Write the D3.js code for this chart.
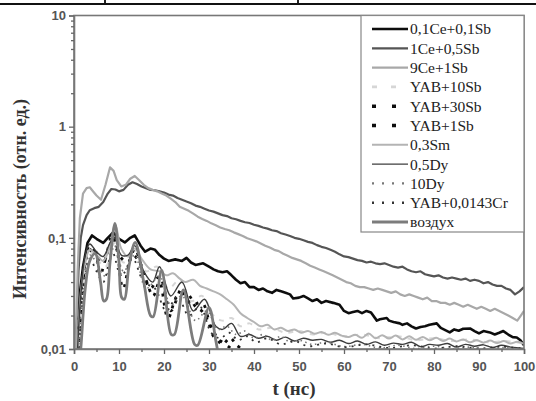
<!DOCTYPE html>
<html><head><meta charset="utf-8">
<script src="https://cdn.jsdelivr.net/npm/d3@7"></script>
<style>body{margin:0;background:#fff}svg{display:block}</style>
</head><body><svg id="c" width="536" height="401"></svg>
<script>
// ---- data (t in ns, intensity in rel. units) ----
const xTicks = [0,10,20,30,40,50,60,70,80,90,100];
const yTicks = [0.01,0.1,1,10];
const yTickLabels = ["0,01","0,1","1","10"];
const seriesNames = ["0,1Ce+0,1Sb","1Ce+0,5Sb","9Ce+1Sb","YAB+10Sb","YAB+30Sb","YAB+1Sb","0,3Sm","0,5Dy","10Dy","YAB+0,0143Cr","воздух"];

const ce01 = [[0.3,0.01],[1,0.025],[2,0.055],[3,0.09],[4,0.105],[5,0.098],[6.5,0.09],[7.5,0.1],[8.7,0.112],[10,0.098],[11.3,0.091],[12.5,0.1],[13.5,0.105],[14.8,0.085],[15.8,0.075],[17,0.08],[18,0.078],[19,0.07],[20,0.065],[21,0.062],[22.5,0.064],[24,0.062],[25,0.066],[26,0.06],[27,0.057],[28.7,0.059],[30,0.055],[31,0.052],[32,0.05],[33,0.049],[34,0.05],[35,0.046],[36,0.042],[37,0.039],[38,0.04],[39,0.036],[40,0.036],[41,0.034],[42,0.035],[43,0.033],[44,0.032],[45,0.034],[46,0.033],[47,0.032],[48,0.031],[48.7,0.0285],[50,0.029],[51,0.03],[52,0.0285],[53,0.027],[54,0.028],[55,0.026],[56,0.027],[57.6,0.026],[59,0.025],[60,0.022],[61,0.021],[62,0.0215],[63,0.022],[64,0.021],[65,0.022],[66,0.0213],[67.3,0.018],[68,0.0185],[69.5,0.019],[70,0.018],[71,0.0175],[72.4,0.017],[73,0.0165],[74,0.017],[75,0.016],[76,0.0153],[77,0.0158],[78,0.016],[79,0.0165],[80.6,0.017],[81.5,0.0155],[82.5,0.0148],[83.5,0.0141],[84.5,0.015],[85.5,0.0146],[86.5,0.0152],[88,0.0153],[89,0.0145],[90,0.0138],[91,0.0145],[92.4,0.0141],[93.5,0.0135],[94.5,0.014],[95.4,0.0145],[96.5,0.0135],[97.5,0.0128],[98.4,0.0127],[99.2,0.012],[100,0.0108]];

const ce1 = [[0.4,0.01],[1,0.05],[1.5,0.1],[2,0.13],[2.8,0.16],[3.5,0.177],[4.5,0.185],[5.5,0.19],[6.5,0.21],[7.5,0.25],[8.3,0.275],[9.2,0.272],[10,0.262],[11,0.27],[12,0.3],[13,0.316],[14,0.305],[15,0.29],[16,0.28],[17,0.27],[18,0.268],[19,0.262],[20,0.256],[21,0.245],[22,0.24],[23,0.228],[24,0.22],[25,0.212],[26,0.205],[27,0.195],[28,0.19],[29,0.183],[30,0.176],[31,0.172],[32,0.166],[33,0.16],[34,0.157],[35,0.15],[36,0.147],[37,0.142],[38,0.138],[39,0.136],[40,0.131],[41,0.128],[42,0.124],[43,0.121],[44,0.117],[45,0.115],[46,0.11],[47,0.107],[48,0.104],[49,0.1],[50,0.098],[51,0.095],[52,0.092],[53,0.09],[54,0.086],[55,0.083],[56,0.081],[57,0.078],[58,0.075],[59,0.071],[60,0.068],[61,0.067],[62,0.065],[63,0.063],[64,0.062],[65,0.06],[66,0.061],[67,0.059],[68,0.058],[69,0.059],[70,0.057],[71,0.055],[72,0.054],[73,0.055],[74,0.052],[75,0.05],[76,0.049],[77,0.05],[78,0.047],[79,0.046],[80,0.045],[81,0.046],[82,0.044],[83,0.043],[84,0.044],[85,0.043],[86,0.042],[87,0.043],[88,0.041],[89,0.042],[90,0.041],[91,0.039],[92,0.04],[93,0.038],[94,0.037],[95,0.037],[96,0.035],[97,0.034],[98,0.031],[99,0.033],[100,0.036]];

const ce9 = [[0.4,0.01],[0.8,0.05],[1.3,0.15],[2,0.25],[2.8,0.28],[3.5,0.285],[4.3,0.26],[5,0.24],[6,0.22],[7,0.3],[8,0.43],[8.8,0.4],[9.5,0.33],[10.5,0.29],[11.5,0.3],[12.5,0.34],[13.5,0.36],[14.5,0.33],[15.5,0.3],[16.5,0.28],[17.5,0.27],[18.5,0.262],[19.5,0.25],[20.5,0.24],[21.5,0.225],[22.5,0.21],[23.5,0.19],[24.5,0.183],[25.5,0.175],[26.5,0.165],[27.5,0.155],[28.5,0.148],[29.5,0.142],[30.5,0.135],[31.5,0.13],[32.5,0.124],[33.5,0.12],[34.5,0.117],[35.5,0.112],[36.5,0.108],[37.5,0.104],[38.5,0.099],[39.5,0.096],[40.5,0.093],[41.5,0.089],[42.5,0.085],[43.5,0.082],[44.5,0.078],[45.5,0.076],[46.5,0.072],[47.5,0.069],[48.5,0.066],[49.5,0.064],[50.5,0.062],[51.5,0.059],[52.5,0.056],[53.5,0.054],[54.5,0.052],[55.5,0.05],[56.5,0.048],[57.5,0.046],[58.5,0.044],[59.5,0.042],[60.5,0.04],[61.5,0.039],[62.5,0.037],[63.5,0.036],[64.5,0.036],[65.5,0.035],[66.5,0.034],[67.5,0.035],[68.5,0.034],[69.5,0.033],[70.5,0.032],[71.5,0.033],[72.5,0.031],[73.5,0.03],[74.5,0.031],[75.5,0.03],[76.5,0.029],[77.5,0.028],[78.5,0.029],[79.5,0.027],[80.5,0.027],[81.5,0.026],[82.5,0.026],[83.5,0.025],[84.5,0.026],[85.5,0.025],[86.5,0.024],[87.5,0.025],[88.5,0.024],[89.5,0.023],[90.5,0.024],[91.5,0.023],[92.5,0.022],[93.5,0.023],[94.5,0.022],[95.5,0.021],[96.5,0.02],[97.5,0.019],[98.5,0.018],[99.3,0.02],[100,0.022]];

const yab10 = [[1,0.01],[2,0.04],[3.5,0.075],[5,0.065],[7,0.055],[9,0.09],[11,0.06],[13.5,0.078],[16,0.05],[18.5,0.055],[21,0.035],[23.5,0.042],[26,0.027],[28.5,0.03],[31,0.02],[33,0.018],[35,0.019],[37,0.016],[39,0.017],[41,0.015],[44,0.0155],[47,0.014],[50,0.0145],[53,0.0135],[56,0.014],[60,0.013],[64,0.0135],[68,0.0125],[72,0.013],[76,0.012],[80,0.0125],[84,0.0118],[88,0.0122],[92,0.0115],[96,0.0118],[100,0.0112]];

const yab30 = [[1,0.01],[2,0.04],[3,0.072],[4.5,0.08],[5.8,0.047],[7.5,0.075],[9,0.1],[10.9,0.035],[13,0.07],[14.7,0.059],[16,0.042],[17.6,0.03],[19,0.04],[20.9,0.019],[23,0.03],[25.3,0.031],[27,0.024],[28.4,0.022],[30.7,0.0153],[32.9,0.011],[34.7,0.0126],[36,0.011],[38,0.0095]];

const yab1 = [[1,0.015],[2,0.045],[3.5,0.085],[5,0.07],[6.5,0.06],[8.5,0.105],[10,0.07],[12,0.06],[13.5,0.08],[15,0.055],[17,0.035],[19,0.045],[21.5,0.022],[24,0.035],[26,0.025],[28.5,0.026],[31,0.013],[33,0.0115],[35,0.01],[36,0.009]];

const sm03 = [[0.8,0.01],[1.6,0.035],[2.5,0.06],[3.5,0.078],[5,0.07],[6.5,0.062],[8,0.085],[9.2,0.13],[10.5,0.08],[12,0.068],[13.5,0.08],[15,0.065],[17,0.052],[19,0.05],[20.5,0.046],[22,0.048],[23.5,0.043],[24.7,0.04],[26.5,0.042],[28,0.037],[29.5,0.035],[31,0.033],[32.5,0.031],[34,0.028],[35.5,0.025],[37,0.021],[38.5,0.019],[40,0.0175],[41.5,0.016],[43,0.0165],[44.5,0.015],[46,0.0155],[47.5,0.0145],[49,0.015],[50.5,0.014],[52,0.0145],[53.5,0.0137],[55,0.0142],[56.5,0.0134],[58,0.014],[59.5,0.0132],[61,0.0128],[62.5,0.0134],[64,0.0126],[65.5,0.0138],[67,0.0125],[68.5,0.0133],[70,0.0124],[71.5,0.0132],[73,0.0122],[74.5,0.013],[76,0.0121],[77.5,0.0128],[79,0.012],[80.5,0.0126],[82,0.0118],[83.5,0.0124],[85,0.0117],[86.5,0.0122],[88,0.0115],[89.5,0.012],[91,0.0114],[92.5,0.0119],[94,0.0113],[95.5,0.0118],[97,0.0112],[98.5,0.0116],[100,0.0111]];

const dy05 = [[0.8,0.01],[1.5,0.03],[2.5,0.07],[3.5,0.088],[5,0.075],[6.5,0.068],[8,0.09],[9,0.1],[10.5,0.07],[12,0.07],[13.5,0.085],[15.5,0.05],[17.5,0.04],[19,0.055],[21.5,0.03],[24,0.04],[26.5,0.022],[29,0.028],[31.5,0.016],[33,0.015],[35,0.017],[37,0.013],[39,0.0135],[41,0.0125],[43,0.013],[45,0.012],[47,0.0128],[49,0.0118],[51,0.0125],[53,0.012],[55,0.0122],[57,0.0115],[59,0.012],[61,0.0112],[63,0.0118],[65,0.011],[67,0.0116],[69,0.0108],[71,0.0113],[73,0.011],[75,0.0115],[77,0.0105],[79,0.011],[81,0.0108],[83,0.0112],[85,0.0104],[87,0.011],[89,0.0106],[91,0.0109],[93,0.0103],[95,0.0108],[97,0.0104],[99,0.0102],[100,0.0101]];

const dy10 = [[1,0.01],[2,0.03],[3.5,0.07],[5,0.06],[7,0.045],[9,0.085],[11,0.05],[13.5,0.07],[16,0.035],[19,0.045],[21.5,0.025],[24,0.03],[27,0.018],[29.5,0.022],[32,0.015],[34,0.016],[36,0.0135],[38,0.0145],[40,0.0125],[42,0.0135],[44,0.012],[46,0.013],[48,0.0115],[50,0.012],[53,0.011],[56,0.0115],[60,0.0105],[64,0.011],[68,0.0102],[72,0.0108],[76,0.0101],[80,0.0106],[84,0.01],[88,0.0104],[92,0.0099],[96,0.0103],[100,0.0099]];

const yabCr = [[1.2,0.01],[2.2,0.035],[3.5,0.065],[5,0.05],[6.5,0.04],[8.5,0.075],[10.5,0.045],[13,0.065],[15.5,0.04],[18,0.035],[20.5,0.022],[23,0.03],[25.5,0.02],[28,0.024],[30.5,0.014],[32.5,0.0125],[34.5,0.014],[36.5,0.012],[38.5,0.013],[40.5,0.0115],[43,0.0125],[46,0.011],[49,0.0118],[52,0.0106],[56,0.0112],[60,0.0104],[65,0.011],[70,0.0102],[75,0.0108],[80,0.0101],[85,0.0106],[90,0.0101],[95,0.0105],[100,0.01]];

const air = [[0.5,0.004],[1.5,0.01],[2.5,0.035],[3.5,0.062],[4.7,0.072],[5.9,0.04],[6.6,0.027],[7.2,0.028],[8,0.06],[9.1,0.135],[10,0.06],[10.6,0.029],[11.2,0.028],[12.2,0.055],[13.6,0.091],[15.5,0.04],[17,0.02],[17.6,0.0195],[19.5,0.051],[21.6,0.0135],[22.3,0.0135],[24.3,0.034],[26.8,0.011],[27.5,0.0108],[30,0.0236],[31.5,0.012],[32.5,0.007]];

const seriesData = [ce01,ce1,ce9,yab10,yab30,yab1,sm03,dy05,dy10,yabCr,air];
const styles = [
  {c:"#111",w:2.6,d:null,ld:null,curve:"lin"},
  {c:"#555",w:2.2,d:null,ld:null,curve:"lin"},
  {c:"#a8a8a8",w:2.2,d:null,ld:null,curve:"lin"},
  {c:"#d6d6d6",w:2,d:"5,6",ld:"5,14",curve:"cr"},
  {c:"#111",w:2.8,d:"3,6",ld:"4,16",curve:"cr"},
  {c:"#111",w:2.8,d:"3,7",ld:"4,16",curve:"cr"},
  {c:"#b4b4b4",w:2,d:null,ld:null,curve:"cr"},
  {c:"#3c3c3c",w:1.4,d:null,ld:null,curve:"cr"},
  {c:"#777",w:1.6,d:"1.5,3.5",ld:"2,8",curve:"cr"},
  {c:"#333",w:1.8,d:"2,5",ld:"2,8",curve:"cr"},
  {c:"#7c7c7c",w:2.8,d:null,ld:null,curve:"cr"}
];

const svg = d3.select("#c");
svg.append("rect").attr("width",536).attr("height",401).attr("fill","#fff");

// page crop remnants at top
svg.append("rect").attr("x",0).attr("y",3).attr("width",536).attr("height",2).attr("fill","#111");
svg.append("rect").attr("x",104).attr("y",0).attr("width",2).attr("height",3).attr("fill","#222");
svg.append("rect").attr("x",297).attr("y",0).attr("width",2).attr("height",3).attr("fill","#222");

const x = d3.scaleLinear().domain([0,100]).range([74,524]);
const y = d3.scaleLog().domain([0.01,10]).range([349,15.5]);

const defs = svg.append("defs");
defs.append("clipPath").attr("id","clip").append("rect")
  .attr("x",74).attr("y",15.5).attr("width",450).attr("height",333.5);
const f = defs.append("filter").attr("id","soft").attr("filterUnits","userSpaceOnUse")
  .attr("x",0).attr("y",0).attr("width",536).attr("height",401);
f.append("feGaussianBlur").attr("stdDeviation",0.55);

// series
const gLines = svg.append("g").attr("clip-path","url(#clip)").attr("filter","url(#soft)");
seriesData.forEach((d,i)=>{
  const s = styles[i];
  const line = d3.line().x(p=>x(p[0])).y(p=>y(Math.max(p[1],0.003)))
    .curve(s.curve==="cr" ? d3.curveCatmullRom.alpha(0.5) : d3.curveLinear);
  gLines.append("path").datum(d).attr("d",line).attr("fill","none")
    .attr("stroke",s.c).attr("stroke-width",s.w)
    .attr("stroke-dasharray",s.d).attr("stroke-linejoin","round");
});

// frame
svg.append("rect").attr("x",74).attr("y",15.5).attr("width",450).attr("height",333.5)
  .attr("fill","none").attr("stroke","#777").attr("stroke-width",1.6);

// axes
const tickFont = "'Liberation Sans', Arial, sans-serif";
const yAxis = d3.axisLeft(y).tickValues(yTicks).tickSize(5).tickPadding(3)
  .tickFormat((d,i)=>yTickLabels[i]);
svg.append("g").attr("transform","translate(74,0)").call(yAxis);
const minorY = [];
[0.01,0.1,1].forEach(b=>{for(let k=2;k<=9;k++) minorY.push(b*k);});
svg.append("g").attr("transform","translate(74,0)")
  .call(d3.axisLeft(y).tickValues(minorY).tickSize(3).tickFormat(""))
  .call(g=>g.select(".domain").remove());

const xAxis = d3.axisBottom(x).tickValues(xTicks).tickSize(5).tickPadding(8).tickFormat(d3.format("d"));
svg.append("g").attr("transform","translate(0,349)").call(xAxis);
const minorX = xTicks.slice(0,-1).map(t=>t+5);
svg.append("g").attr("transform","translate(0,349)")
  .call(d3.axisBottom(x).tickValues(minorX).tickSize(3).tickFormat(""))
  .call(g=>g.select(".domain").remove());

svg.selectAll(".domain").attr("stroke","#777").attr("stroke-width",1.6);
svg.selectAll(".tick line").attr("stroke","#666").attr("stroke-width",1.3);
svg.selectAll(".tick text").attr("font-family",tickFont).attr("font-weight","bold")
  .attr("font-size",13).attr("fill","#555");

// titles
svg.append("text").attr("transform","translate(20,199) rotate(-90)")
  .attr("text-anchor","middle").attr("dominant-baseline","central")
  .attr("font-family","'Liberation Serif','Times New Roman',serif").attr("font-weight","bold")
  .attr("font-size",18).attr("fill","#333").text("Интенсивность (отн. ед.)");
svg.append("text").attr("x",294).attr("y",395).attr("text-anchor","middle")
  .attr("font-family","'Liberation Serif','Times New Roman',serif").attr("font-weight","bold")
  .attr("font-size",19).attr("fill","#333").text("t (нс)");

// legend
const lg = svg.append("g");
lg.append("rect").attr("x",361).attr("y",15.5).attr("width",163).attr("height",216.5)
  .attr("fill","#fff").attr("stroke","#888").attr("stroke-width",1.2);
const rowY = d3.scaleLinear().domain([0,10]).range([29,222]);
const lgLines = lg.append("g").attr("filter","url(#soft)");
seriesNames.forEach((n,i)=>{
  const s = styles[i];
  lgLines.append("line").attr("x1",372).attr("x2",408).attr("y1",rowY(i)).attr("y2",rowY(i))
    .attr("stroke",s.c).attr("stroke-width",s.ld ? s.w+0.6 : s.w).attr("stroke-dasharray",s.ld);
  lg.append("text").attr("x",410).attr("y",rowY(i)).attr("dy","0.35em")
    .attr("font-family","'Liberation Serif','Times New Roman',serif")
    .attr("font-size",15.5).attr("fill","#222").text(n);
});
</script></body></html>
